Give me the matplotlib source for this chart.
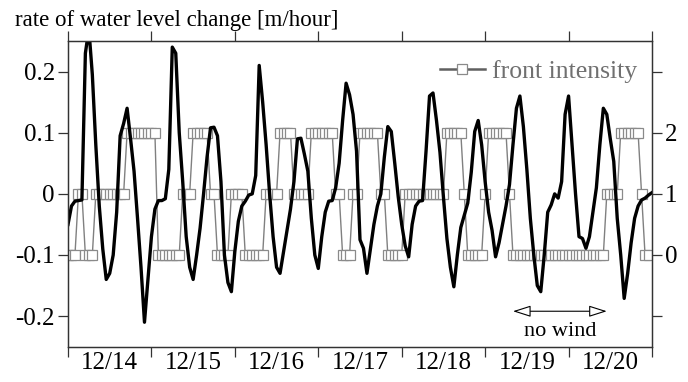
import matplotlib
matplotlib.use("Agg")
import matplotlib.pyplot as plt
import numpy as np

plt.rcParams['font.family'] = 'serif'
plt.rcParams['font.serif'] = ['Liberation Serif', 'DejaVu Serif']
plt.rcParams['axes.unicode_minus'] = False

# Datos: tasa de cambio del nivel del agua (cada hora, desde 12/14 00:00)
tasaNivel = [
    -0.050, -0.020, -0.012, -0.011, -0.010, 0.230, 0.270, 0.195, 0.080, -0.020, -0.090, -0.140,
    -0.130, -0.100, -0.030, 0.095, 0.115, 0.140, 0.090, 0.037, -0.040, -0.120, -0.210, -0.140,
    -0.070, -0.025, -0.011, -0.011, -0.008, 0.040, 0.240, 0.230, 0.100, 0.020, -0.070, -0.120,
    -0.140, -0.100, -0.056, 0.000, 0.060, 0.108, 0.109, 0.095, 0.020, -0.100, -0.145, -0.160,
    -0.094, -0.045, -0.020, -0.012, -0.002, 0.000, 0.030, 0.210, 0.150, 0.080, 0.000, -0.070,
    -0.120, -0.130, -0.095, -0.060, -0.025, 0.020, 0.090, 0.091, 0.065, 0.037, -0.040, -0.100,
    -0.122, -0.070, -0.030, -0.012, -0.011, 0.010, 0.050, 0.120, 0.181, 0.162, 0.130, 0.070,
    -0.075, -0.089, -0.130, -0.090, -0.050, -0.020, 0.000, 0.060, 0.110, 0.102, 0.050, -0.005,
    -0.050, -0.085, -0.103, -0.050, -0.020, -0.012, -0.011, 0.070, 0.160, 0.165, 0.120, 0.068,
    -0.005, -0.073, -0.120, -0.152, -0.100, -0.055, -0.035, -0.015, 0.035, 0.102, 0.120, 0.080,
    0.020, -0.030, -0.060, -0.103, -0.080, -0.050, -0.020, 0.015, 0.080, 0.140, 0.160, 0.110,
    0.040, -0.040, -0.100, -0.150, -0.160, -0.100, -0.030, -0.018, 0.000, -0.007, 0.020, 0.130,
    0.160, 0.080, 0.000, -0.070, -0.073, -0.089, -0.070, -0.030, 0.010, 0.080, 0.140, 0.130,
    0.090, 0.053, -0.040, -0.100, -0.171, -0.130, -0.080, -0.040, -0.020, -0.010, -0.007, -0.002,
    0.002,
]

# Intensidad del frente (cada hora)
intensidadFrente = [
    0, 0, 0, 1, 1, 0, 0, 0, 1, 1, 1, 1, 1, 1, 1, 1, 1, 2, 2, 2, 2, 2, 2, 2,
    2, 2, 0, 0, 0, 0, 0, 0, 0, 1, 1, 1, 2, 2, 2, 2, 2, 1, 1, 0, 0, 0, 0, 1,
    1, 1, 1, 0, 0, 0, 0, 0, 0, 1, 1, 1, 1, 2, 2, 2, 2, 1, 1, 1, 1, 1, 2, 2,
    2, 2, 2, 2, 2, 1, 1, 0, 0, 0, 1, 1, 2, 2, 2, 2, 2, 2, 1, 1, 0, 0, 0, 0,
    0, 1, 1, 1, 1, 1, 1, 1, 1, 1, 1, 1, 1, 2, 2, 2, 2, 2, 1, 0, 0, 0, 0, 0,
    1, 2, 2, 2, 2, 2, 2, 1, 0, 0, 0, 0, 0, 0, 0, 0, 0, 0, 0, 0, 0, 0, 0, 0,
    0, 0, 0, 0, 0, 0, 0, 0, 0, 0, 0, 1, 1, 1, 1, 2, 2, 2, 2, 2, 2, 1, 0, 0,
]

dias = ["12/14", "12/15", "12/16", "12/17", "12/18", "12/19", "12/20"]

horasNivel = np.arange(len(tasaNivel))
horasFrente = np.arange(len(intensidadFrente))

#--------------------
# Grafica
#--------------------
fig = plt.figure(figsize=(6.88, 3.82), dpi=100)
ax1 = fig.add_axes([68 / 688, 35.3 / 382, 584 / 688, 305.7 / 382])
ax2 = ax1.twinx()

# Intensidad del frente (eje derecho)
ax2.plot(horasFrente, intensidadFrente, color="#808080", linewidth=1.0,
         marker="s", markersize=7, markerfacecolor="white",
         markeredgecolor="#8a8a8a", markeredgewidth=0.9, label="front intensity")
ax2.set_ylim(-1.5, 3.5)
ax2.set_yticks([-1, 0, 1, 2, 3])
ax2.set_yticklabels(["", "0", "1", "2", ""])

# Tasa de cambio (eje izquierdo, encima)
ax1.set_zorder(ax2.get_zorder() + 1)
ax1.patch.set_visible(False)
ax1.plot(horasNivel, tasaNivel, color="black", linewidth=2.4)
ax1.set_ylim(-0.25, 0.25)
ax1.set_yticks([-0.2, -0.1, 0, 0.1, 0.2])
ax1.set_yticklabels(["-0.2", "-0.1", "0", "0.1", "0.2"])
ax1.set_xlim(0, 168)

# Dias: marcas en medianoche, etiquetas al mediodia
ax1.set_xticks(np.arange(0, 169, 24))
ax1.set_xticklabels([])
ax1.set_xticks(np.arange(12, 168, 24), minor=True)
ax1.set_xticklabels(dias, minor=True)
ax1.tick_params(axis="x", which="minor", length=0, pad=4, labelsize=18)
ax1.tick_params(axis="x", which="major", direction="out", length=7, width=0.9,
                top=True, color="#333333")
ax1.tick_params(axis="y", direction="out", length=7, width=0.9, pad=2.5,
                labelsize=18, color="#333333")
ax2.tick_params(axis="y", direction="out", length=7, width=0.9, pad=2.5,
                labelsize=18, color="#333333")

for a in (ax1, ax2):
    for s in a.spines.values():
        s.set_color("#333333")
        s.set_linewidth(0.9)

# Leyenda
leg = ax2.legend(loc="center right", bbox_to_anchor=(0.997, 0.899), frameon=False,
                 borderpad=0, handlelength=1.75, handletextpad=0.3, fontsize=18.5)
for t in leg.get_texts():
    t.set_color("#707070")
for l in leg.get_lines():
    l.set_color("#606060")
    l.set_linewidth(1.8)

# Periodo sin viento
ax1.annotate("", xy=(155, -0.192), xytext=(128, -0.192),
             arrowprops=dict(arrowstyle="<|-|>,head_length=1.1,head_width=0.35",
                             fc="white", ec="black", lw=0.8,
                             shrinkA=0, shrinkB=0, mutation_scale=10))
ax1.text(141.5, -0.232, "no wind", ha="center", va="baseline", fontsize=16)

fig.text(15 / 688, 1 - 26 / 382, "rate of water level change [m/hour]",
         ha="left", va="baseline", fontsize=16.5)

fig.savefig("out.png", dpi=100)
